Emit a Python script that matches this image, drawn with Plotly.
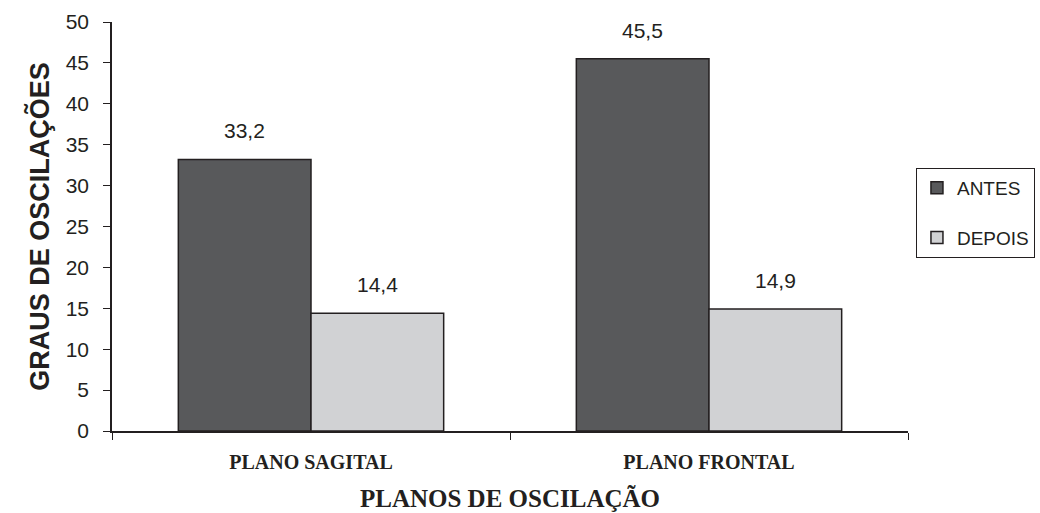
import plotly.graph_objects as go

# Oscillation degrees before/after, by plane
categories = ["PLANO SAGITAL", "PLANO FRONTAL"]
antes = [33.2, 45.5]
depois = [14.4, 14.9]
series_names = ["ANTES", "DEPOIS"]

edge = "#231f20"
colors = ["#58595b", "#d1d2d4"]

fig = go.Figure()
for name, vals, col in zip(series_names, [antes, depois], colors):
    fig.add_trace(go.Bar(
        x=categories, y=vals, name=name, legendgroup=name,
        marker=dict(color=col, line=dict(color=edge, width=1.5)),
    ))

# value labels above each bar (group offsets: each bar is 1/3 of a category)
offsets = [-1/6, 1/6]
for off, vals in zip(offsets, [antes, depois]):
    for i, v in enumerate(vals):
        fig.add_annotation(
            x=i + off, y=v, xref="x", yref="y",
            text=f"{v:.1f}".replace(".", ","),
            showarrow=False, yanchor="bottom", yshift=15,
            font=dict(family="Liberation Sans, Arial", size=21, color="#231f20"),
        )

fig.update_layout(
    width=1040, height=513,
    margin=dict(l=112, r=132, t=22, b=82, autoexpand=False),
    paper_bgcolor="white", plot_bgcolor="white",
    barmode="group", bargap=1/3, bargroupgap=0,
    separators=",.",
    legend=dict(
        x=1.01, y=0.643, xanchor="left", yanchor="top",
        bordercolor=edge, borderwidth=1,
        font=dict(family="Liberation Sans, Arial", size=19, color="#231f20"),
        tracegroupgap=22, traceorder="grouped",
    ),
    xaxis=dict(
        showline=True, linecolor=edge, linewidth=1.5,
        ticks="outside", tickson="boundaries", ticklen=7, tickcolor=edge,
        ticklabelstandoff=12,
        tickfont=dict(family="Liberation Serif, Times New Roman", size=20, color="#231f20"),
        title=dict(text="<b>PLANOS DE OSCILAÇÃO</b>",
                   font=dict(family="Liberation Serif, Times New Roman", size=25, color="#231f20"),
                   standoff=18),
        tickprefix="<b>", ticksuffix="</b>",
    ),
    yaxis=dict(
        range=[0, 50], dtick=5, showgrid=False, zeroline=False,
        showline=True, linecolor=edge, linewidth=1.5,
        ticks="outside", ticklen=7, tickcolor=edge,
        ticklabelstandoff=10,
        tickfont=dict(family="Liberation Sans, Arial", size=21, color="#231f20"),
        title=dict(text="<b>GRAUS DE OSCILAÇÕES</b>",
                   font=dict(family="Liberation Sans, Arial", size=27, color="#231f20"),
                   standoff=8),
    ),
)

fig.write_html("out.html")
